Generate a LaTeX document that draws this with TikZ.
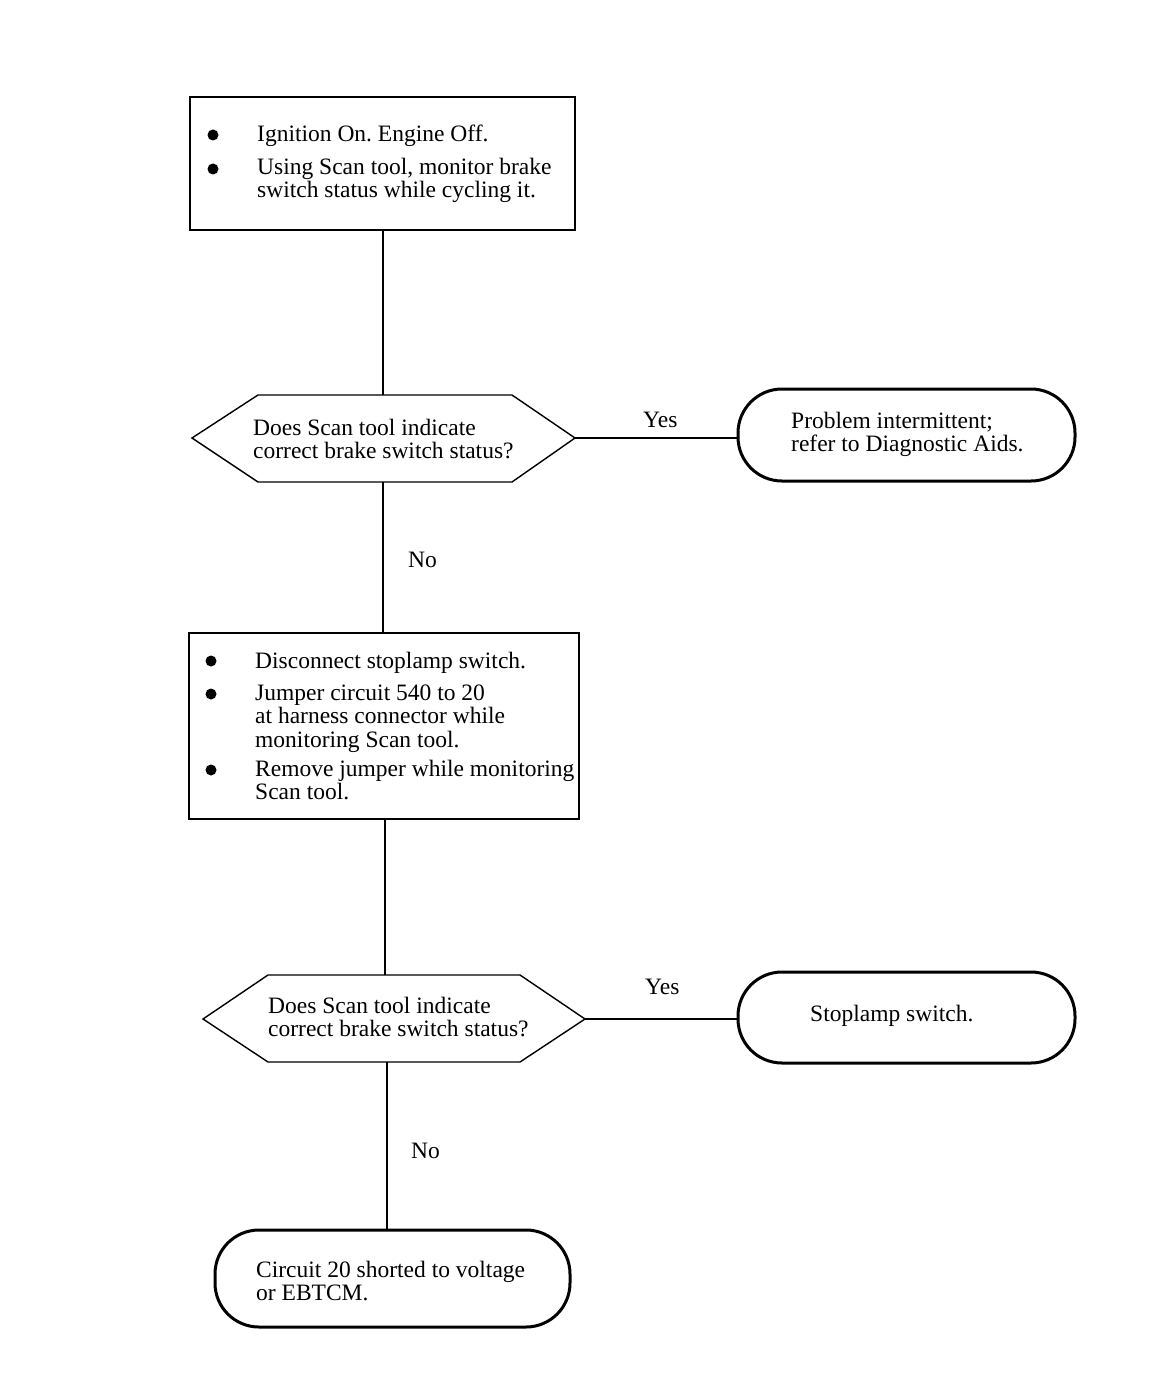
\documentclass[tikz,border=0pt]{standalone}
\usepackage{fontspec}
\setmainfont{Liberation Serif}
\frenchspacing
\begin{document}
\begin{tikzpicture}[x=1pt,y=-1pt,
  txt/.style={anchor=base west,inner sep=0pt,font=\fontsize{23.5}{23}\selectfont},
  lbl/.style={anchor=base west,inner sep=0pt,font=\fontsize{23.5}{23}\selectfont},
  box/.style={draw,line width=1.8pt},
  term/.style={draw,line width=3pt,rounded corners=44pt},
  hex/.style={draw,line width=1.4pt,line join=miter},
  conn/.style={line width=1.4pt},
  bul/.style={circle,fill,inner sep=0pt,minimum size=11pt}]
\useasboundingbox (0,0) rectangle (1152,1380);
% --- box 1
\draw[box] (190,97) rectangle (575,230);
\coordinate (b1b) at (383,230);
\node[bul] (bu1) at (213,135) {};
\node[bul] (bu2) at (213,169) {};
\node[txt] (t1a) at (257,142) {Ignition On. Engine Off.};
\node[txt] (t1b) at (257,175) {\begin{tabular}[t]{@{}l@{}}Using Scan tool, monitor brake\\[-1pt] switch status while cycling it.\end{tabular}};
% --- decision 1
\coordinate (d1t) at (383,395);
\coordinate (d1b) at (383,482);
\coordinate (d1r) at (575,438);
\draw[hex] (192,438) -- (258,395) -- (512,395) -- (575,438) -- (512,482) -- (258,482) -- cycle;
\node[txt] (q1) at (253,435) {\begin{tabular}[t]{@{}l@{}}Does Scan tool indicate\\ correct brake switch status?\end{tabular}};
% --- terminal 1
\draw[term] (738,389) rectangle (1075,481);
\coordinate (e1l) at (738,438);
\node[txt] (e1) at (791,428) {\begin{tabular}[t]{@{}l@{}}Problem intermittent;\\ refer to Diagnostic Aids.\end{tabular}};
% --- box 2
\draw[box] (189,633) rectangle (579,819);
\coordinate (b2t) at (383,633);
\coordinate (b2b) at (385,819);
\node[bul] (bu3) at (211,661) {};
\node[bul] (bu4) at (211,694) {};
\node[bul] (bu5) at (211,770) {};
\node[txt] (t2a) at (255,668) {Disconnect stoplamp switch.};
\node[txt] (t2b) at (255,700) {\begin{tabular}[t]{@{}l@{}}Jumper circuit 540 to 20\\[0.5pt] at harness connector while\\[0.5pt] monitoring Scan tool.\end{tabular}};
\node[txt] (t2c) at (255,776) {\begin{tabular}[t]{@{}l@{}}Remove jumper while monitoring\\ Scan tool.\end{tabular}};
% --- decision 2
\coordinate (d2t) at (385,975);
\coordinate (d2b) at (387,1062);
\coordinate (d2r) at (585,1019);
\draw[hex] (203,1019) -- (268,975) -- (520,975) -- (585,1019) -- (520,1062) -- (268,1062) -- cycle;
\node[txt] (q2) at (268,1013) {\begin{tabular}[t]{@{}l@{}}Does Scan tool indicate\\ correct brake switch status?\end{tabular}};
% --- terminal 2
\draw[term] (738,972) rectangle (1075,1063);
\coordinate (e2l) at (738,1019);
\node[txt] (e2) at (810,1021) {Stoplamp switch.};
% --- terminal 3
\draw[term] (215,1230) rectangle (570,1327);
\coordinate (e3t) at (387,1230);
\node[txt] (e3) at (256,1277) {\begin{tabular}[t]{@{}l@{}}Circuit 20 shorted to voltage\\ or EBTCM.\end{tabular}};
% --- connectors
\draw[conn] (b1b) -- (d1t);
\draw[conn] (d1r) -- (e1l);
\draw[conn] (d1b) -- (b2t);
\draw[conn] (b2b) -- (d2t);
\draw[conn] (d2r) -- (e2l);
\draw[conn] (d2b) -- (e3t);
% --- labels
\node[lbl] (y1) at (643,427) {Yes};
\node[lbl] (n1) at (408,567) {No};
\node[lbl] (y2) at (645,994) {Yes};
\node[lbl] (n2) at (411,1158) {No};
\end{tikzpicture}
\end{document}
